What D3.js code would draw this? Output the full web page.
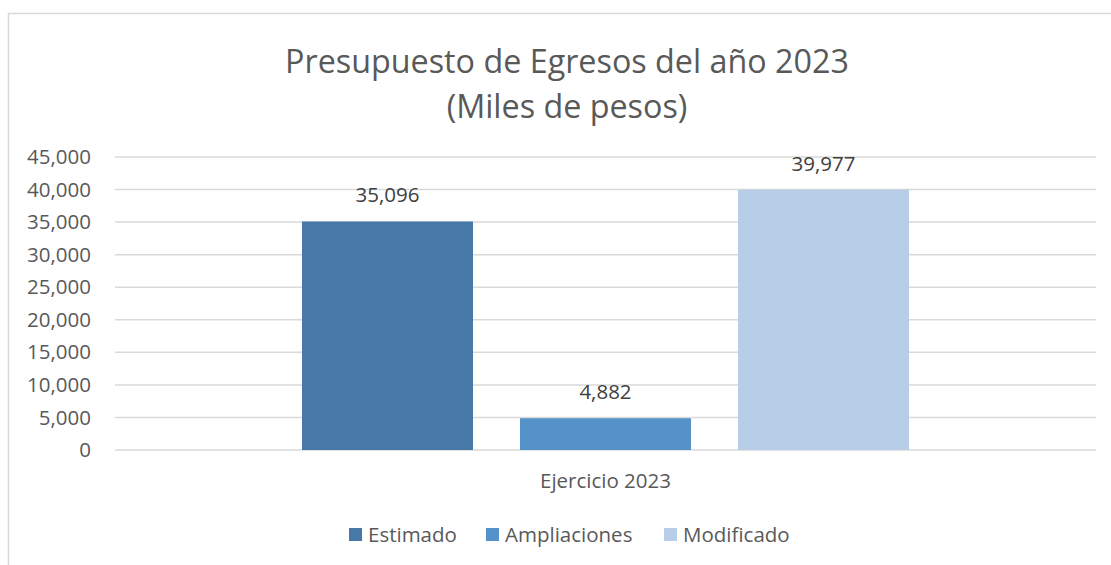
<!DOCTYPE html>
<html>
<head>
<meta charset="utf-8">
<script src="https://cdn.jsdelivr.net/npm/d3@7"></script>
<style>
  html, body { margin: 0; padding: 0; background: #fff; }
  svg { display: block; font-family: "Open Sans", sans-serif; }
</style>
</head>
<body>
<svg id="chart" width="1111" height="565"></svg>
<script>
const categories = ["Ejercicio 2023"];
const seriesNames = ["Estimado", "Ampliaciones", "Modificado"];
const seriesValues = [35096, 4882, 39977];
const seriesColors = ["#4678a8", "#5592c9", "#b8cde8"];
const yTicks = [0, 5000, 10000, 15000, 20000, 25000, 30000, 35000, 40000, 45000];
const titleLines = ["Presupuesto de Egresos del año 2023", "(Miles de pesos)"];

const svg = d3.select("#chart");
const plot = { left: 115, right: 1096, top: 157, bottom: 450 };
const FS = 20.5;

// frame
svg.append("rect")
  .attr("x", 8.5).attr("y", 13.5)
  .attr("width", 1120).attr("height", 600)
  .attr("fill", "#fff").attr("stroke", "#d9d9d9").attr("stroke-width", 1.5);

// title
svg.append("g").selectAll("text").data(titleLines).join("text")
  .attr("x", 567).attr("y", (d, i) => 73 + i * 45)
  .attr("text-anchor", "middle")
  .attr("fill", "#595959")
  .attr("font-size", 32.3)
  .text(d => d);

const y = d3.scaleLinear().domain([0, 45000]).range([plot.bottom, plot.top]);
const x0 = d3.scaleBand().domain(categories).range([plot.left, plot.right]).paddingInner(0).paddingOuter(0.308);
const x1 = d3.scaleBand().domain(seriesNames).range([0, x0.bandwidth()]).paddingInner(0.2156).paddingOuter(0);

// gridlines
svg.append("g").selectAll("line").data(yTicks).join("line")
  .attr("x1", plot.left).attr("x2", plot.right)
  .attr("y1", d => y(d)).attr("y2", d => y(d))
  .attr("stroke", "#d9d9d9").attr("stroke-width", 1.5);

// y axis labels
const yAxis = d3.axisLeft(y).tickValues(yTicks).tickSize(0).tickPadding(0)
  .tickFormat(d3.format(","));
const yg = svg.append("g").attr("transform", `translate(91,0)`).call(yAxis);
yg.select(".domain").remove();
yg.selectAll("text").attr("fill", "#595959").attr("font-size", FS)
  .attr("font-family", "'Open Sans', sans-serif");

// x axis label
const xAxis = d3.axisBottom(x0).tickSize(0).tickPadding(0);
const xg = svg.append("g").attr("transform", `translate(0,473)`).call(xAxis);
xg.select(".domain").remove();
xg.selectAll("text").attr("fill", "#595959").attr("font-size", FS)
  .attr("font-family", "'Open Sans', sans-serif");

// bars
const data = seriesNames.map((s, i) => ({ cat: categories[0], name: s, value: seriesValues[i], color: seriesColors[i] }));
const bars = svg.append("g");
bars.selectAll("rect").data(data).join("rect")
  .attr("x", d => x0(d.cat) + x1(d.name))
  .attr("width", x1.bandwidth())
  .attr("y", d => y(d.value))
  .attr("height", d => y(0) - y(d.value))
  .attr("fill", d => d.color);

bars.selectAll("text").data(data).join("text")
  .attr("x", d => x0(d.cat) + x1(d.name) + x1.bandwidth() / 2)
  .attr("y", d => y(d.value) - 19)
  .attr("text-anchor", "middle")
  .attr("fill", "#404040")
  .attr("font-size", FS)
  .text(d => d3.format(",")(d.value));

// legend
const legendX = [349, 486, 664];
const lg = svg.append("g");
const items = lg.selectAll("g").data(data).join("g")
  .attr("transform", (d, i) => `translate(${legendX[i]},528)`);
items.append("rect").attr("width", 13).attr("height", 13).attr("fill", d => d.color);
items.append("text").attr("x", 19).attr("y", 14)
  .attr("fill", "#595959").attr("font-size", FS)
  .text(d => d.name);
</script>
</body>
</html>
